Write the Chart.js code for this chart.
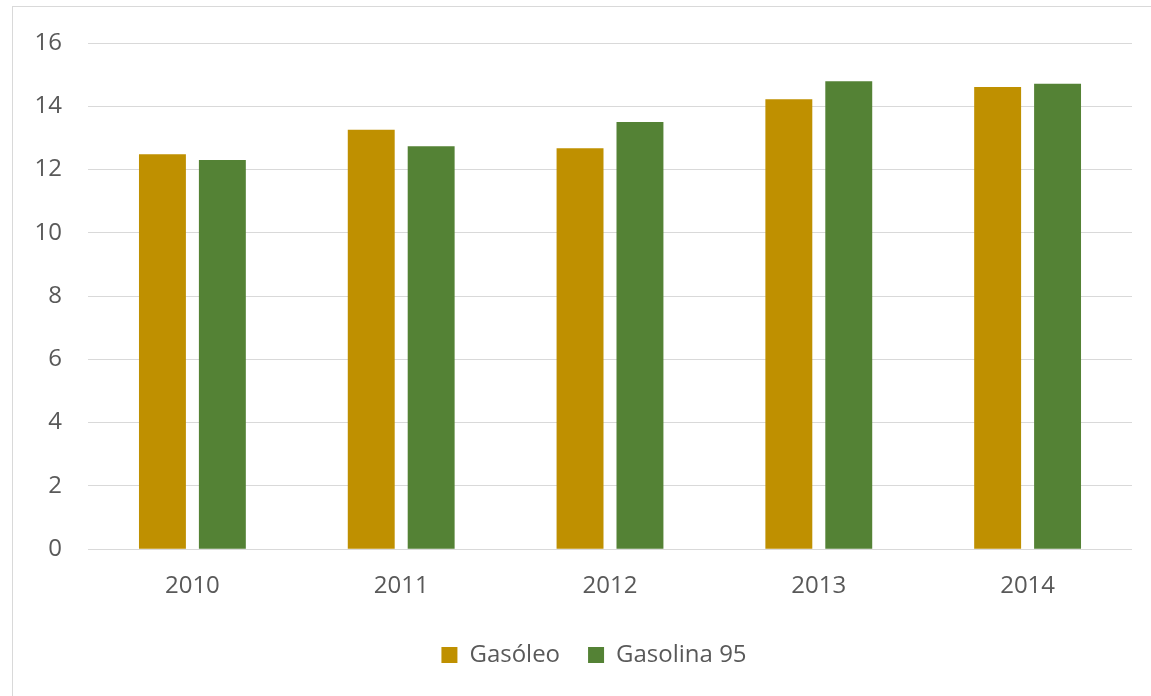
<!DOCTYPE html>
<html><head><meta charset="utf-8">
<script src="https://cdn.jsdelivr.net/npm/chart.js@4/dist/chart.umd.min.js"></script>
<style>
html,body{margin:0;padding:0;background:#fff;overflow:hidden;}
#frame{position:absolute;left:12px;top:6px;width:1200px;height:760px;border:1px solid #d9d9d9;box-sizing:border-box;}
#wrap{position:absolute;left:0;top:0;width:1151px;height:696px;}
</style></head>
<body>
<div id="frame"></div>
<div id="wrap"><canvas id="c" width="1151" height="696"></canvas></div>
<script>
const categories = ["2010","2011","2012","2013","2014"];
const gasoleo = [12.48, 13.26, 12.67, 14.22, 14.61];
const gasolina95 = [12.30, 12.74, 13.50, 14.79, 14.71];
const seriesNames = ["Gasóleo","Gasolina 95"];
const yTicks = [0,2,4,6,8,10,12,14,16];

const font = "'Open Sans', Lato, sans-serif";
const legendShift = {
  id: 'legendShift',
  afterLayout(chart) {
    if (chart.legend) { chart.legend.left += 28; chart.legend.right += 28; }
  }
};
new Chart(document.getElementById('c'), {
  type: 'bar',
  data: {
    labels: categories,
    datasets: [
      {label: seriesNames[0], data: gasoleo, backgroundColor: '#BF9000', categoryPercentage: 0.574, barPercentage: 0.783},
      {label: seriesNames[1], data: gasolina95, backgroundColor: '#548235', categoryPercentage: 0.574, barPercentage: 0.783}
    ]
  },
  plugins: [legendShift],
  options: {
    responsive: false,
    animation: false,
    devicePixelRatio: 1,
    layout: {padding: {left: 0, right: 19, top: 43, bottom: 19}},
    plugins: {
      legend: {
        position: 'bottom',
        labels: {boxWidth: 16, boxHeight: 16, padding: 28, color: '#595959', font: {family: font, size: 24}}
      },
      tooltip: {enabled: false}
    },
    scales: {
      x: {
        grid: {display: false},
        border: {display: false},
        ticks: {color: '#595959', padding: 27, font: {family: font, size: 24, lineHeight: 0.16}}
      },
      y: {
        min: 0, max: 16,
        afterBuildTicks: s => { s.ticks = yTicks.map(v => ({value: v})); },
        afterFit: s => { s.width = 88; },
        grid: {color: '#d9d9d9', drawTicks: false, lineWidth: 1},
        border: {display: false},
        ticks: {color: '#595959', padding: 26, font: {family: font, size: 24}}
      }
    }
  }
});
</script>
</body></html>
